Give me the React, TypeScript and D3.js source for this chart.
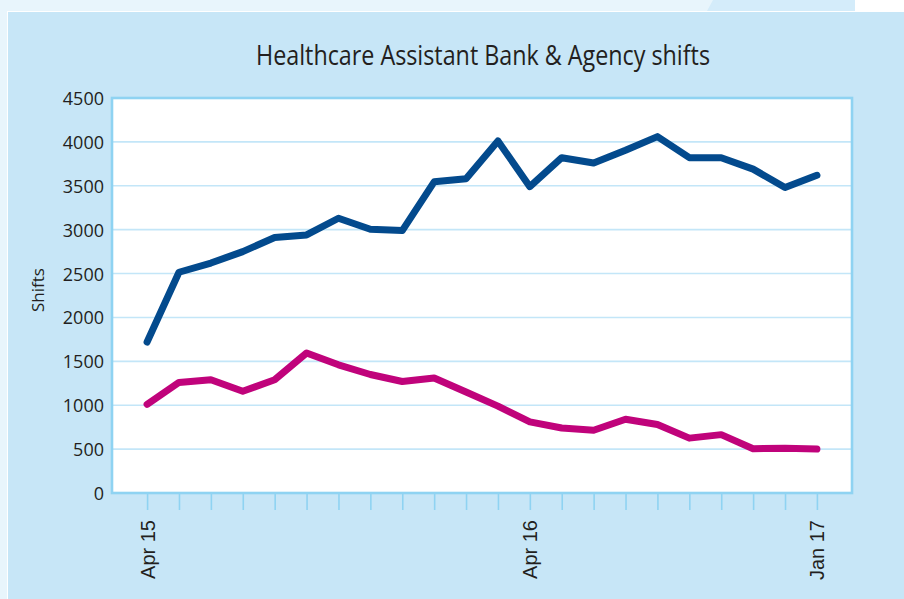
import React, { useEffect, useRef } from 'react';
import * as d3 from 'd3';

// ---------------- data ----------------
const months = [
  'Apr 15', 'May 15', 'Jun 15', 'Jul 15', 'Aug 15', 'Sep 15', 'Oct 15', 'Nov 15', 'Dec 15',
  'Jan 16', 'Feb 16', 'Mar 16', 'Apr 16', 'May 16', 'Jun 16', 'Jul 16', 'Aug 16', 'Sep 16',
  'Oct 16', 'Nov 16', 'Dec 16', 'Jan 17',
];
const bankShifts = [
  1720, 2515, 2620, 2750, 2910, 2940, 3130, 3005, 2990, 3545, 3580,
  4010, 3490, 3820, 3760, 3905, 4060, 3820, 3820, 3690, 3480, 3620,
];
const agencyShifts = [
  1010, 1260, 1290, 1160, 1290, 1595, 1460, 1350, 1270, 1310, 1150,
  990, 810, 740, 715, 840, 780, 625, 665, 505, 510, 500,
];
const labelledMonths = ['Apr 15', 'Apr 16', 'Jan 17'];
const yTicks = [0, 500, 1000, 1500, 2000, 2500, 3000, 3500, 4000, 4500];

const title = 'Healthcare Assistant Bank & Agency shifts';
const yTitle = 'Shifts';

export default function App() {
  const ref = useRef<SVGSVGElement>(null);
  const width = 904;
  const height = 599;
  const plot = { left: 112, right: 852, top: 98, bottom: 493 };

  useEffect(() => {
    document.body.style.margin = '0';
    const svg = d3.select(ref.current);
    svg.selectAll('*').remove();

    // ------------ background panels ------------
    svg.append('rect').attr('x', 0).attr('y', 0).attr('width', width).attr('height', height).attr('fill', '#ffffff');
    svg.append('rect').attr('x', 0).attr('y', 0).attr('width', 855).attr('height', 11).attr('fill', '#e8f5fc');
    svg.append('rect').attr('x', 0).attr('y', 0).attr('width', 7).attr('height', height).attr('fill', '#e8f5fc');
    svg.append('path')
      .attr('d', 'M713,0 L855,0 L855,11 L707,11 Z')
      .attr('fill', '#d4ecfa');
    svg.append('rect').attr('x', 8).attr('y', 12).attr('width', width - 8).attr('height', height - 12).attr('fill', '#c7e6f7');

    // plot area
    svg.append('rect')
      .attr('x', plot.left).attr('y', plot.top)
      .attr('width', plot.right - plot.left).attr('height', plot.bottom - plot.top)
      .attr('fill', '#ffffff');

    // ------------ scales ------------
    const xScale = d3.scalePoint<string>()
      .domain(months)
      .range([plot.left, plot.right])
      .padding(1.1);

    const yScale = d3.scaleLinear()
      .domain([0, 4500])
      .range([plot.bottom, plot.top]);

    // grid lines
    svg.append('g')
      .selectAll('line')
      .data(yTicks.filter((d) => d > 0 && d < 4500))
      .join('line')
      .attr('x1', plot.left).attr('x2', plot.right)
      .attr('y1', (d) => yScale(d)).attr('y2', (d) => yScale(d))
      .attr('stroke', '#c3e6f8')
      .attr('stroke-width', 1.6);

    // y axis
    const yAxis = d3.axisLeft(yScale)
      .tickValues(yTicks)
      .tickFormat(d3.format('d'))
      .tickSize(0)
      .tickPadding(8);
    const gy = svg.append('g').attr('transform', `translate(${plot.left},0)`).call(yAxis);
    gy.select('.domain').remove();
    gy.selectAll('.tick text')
      .attr('fill', '#231f20')
      .style('font-family', '"Open Sans", sans-serif')
      .style('font-size', '18px')
      .attr('dy', '0.36em');

    // x axis
    const xAxis = d3.axisBottom(xScale)
      .tickSize(17)
      .tickFormat((d) => (labelledMonths.includes(d) ? d : ''));
    const gx = svg.append('g').attr('transform', `translate(0,${plot.bottom})`).call(xAxis);
    gx.select('.domain').remove();
    gx.selectAll('.tick line').attr('stroke', '#8fd3f2').attr('stroke-width', 1.6);
    gx.selectAll('.tick text')
      .attr('fill', '#231f20')
      .style('font-family', '"Liberation Sans", Arial, sans-serif')
      .style('font-size', '20px')
      .attr('text-anchor', 'end')
      .attr('transform', 'rotate(-90)')
      .attr('x', -27)
      .attr('y', 0)
      .attr('dy', '0.35em');

    // plot border
    svg.append('rect')
      .attr('x', plot.left).attr('y', plot.top)
      .attr('width', plot.right - plot.left).attr('height', plot.bottom - plot.top)
      .attr('fill', 'none')
      .attr('stroke', '#8fd3f2')
      .attr('stroke-width', 2.6);

    // ------------ lines ------------
    const line = d3.line<number>()
      .x((d, i) => xScale(months[i]) as number)
      .y((d) => yScale(d));

    svg.append('path')
      .datum(agencyShifts)
      .attr('d', line)
      .attr('fill', 'none')
      .attr('stroke', '#c0037b')
      .attr('stroke-width', 7)
      .attr('stroke-linecap', 'round')
      .attr('stroke-linejoin', 'round');

    svg.append('path')
      .datum(bankShifts)
      .attr('d', line)
      .attr('fill', 'none')
      .attr('stroke', '#034a8d')
      .attr('stroke-width', 7)
      .attr('stroke-linecap', 'round')
      .attr('stroke-linejoin', 'round');

    // ------------ titles ------------
    svg.append('text')
      .attr('x', 256)
      .attr('y', 65)
      .attr('fill', '#231f20')
      .attr('textLength', 454)
      .attr('lengthAdjust', 'spacingAndGlyphs')
      .style('font-family', '"Open Sans", sans-serif')
      .style('font-size', '27px')
      .text(title);

    svg.append('text')
      .attr('transform', 'translate(44,290) rotate(-90)')
      .attr('text-anchor', 'middle')
      .attr('fill', '#231f20')
      .style('font-family', '"Open Sans", sans-serif')
      .style('font-size', '17px')
      .text(yTitle);
  }, []);

  return (
    <svg ref={ref} width={width} height={height} style={{ display: 'block' }} />
  );
}
